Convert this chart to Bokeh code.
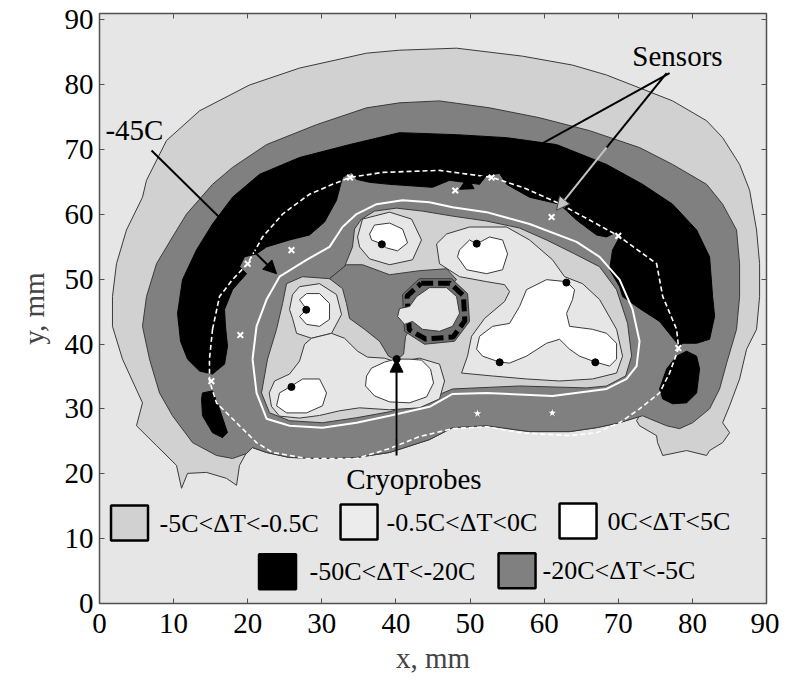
from bokeh.plotting import figure
from bokeh.models import (Range1d, FixedTicker, LinearAxis, CustomJSTickFormatter,
                          Arrow, NormalHead, Label)
from bokeh.core.properties import value
from bokeh.embed import file_html
from bokeh.resources import INLINE

# ---------------- data (mm) ----------------
X_TICKS = [0, 10, 20, 30, 40, 50, 60, 70, 80, 90]
Y_TICKS = [0, 10, 20, 30, 40, 50, 60, 70, 80, 90]

# bottom edge of the -20C..-5C band (shared by two contours)
BAND_BOTTOM_X = [70.18, 67.07, 63.43, 58.03, 52.23, 47.64, 44.53, 39.14, 34.68, 30.09, 25.64, 22.54, 20.65]
BAND_BOTTOM_Y = [27.88, 27.12, 26.51, 26.51, 27.42, 27.12, 25.28, 23.29, 22.52, 22.37, 22.52, 23.29, 24.05]

# -0.5C contour (outer light-grey ring)
LG_OUTER_X = [11.07, 10.39, 7.69, 4.99, 5.80, 3.10, 1.75, 1.75, 2.29, 3.64, 5.80, 6.34, 9.04, 13.50, 20.24,
              26.99, 36.03, 40.49, 48.18, 57.09, 63.83, 68.42, 72.87, 77.33, 81.92, 84.08, 86.37, 87.72,
              88.66, 89.07, 89.07, 88.66, 87.31, 86.37, 85.02, 84.08, 85.02, 84.08, 82.32, 81.92, 79.22,
              76.00, 75.30, 75.17, 72.87, 72.47, 72.87]
LG_OUTER_Y = [17.77, 21.30, 24.36, 27.42, 30.95, 37.69, 42.75, 47.34, 52.40, 57.61, 62.66, 65.27, 71.40, 75.99,
              79.97, 82.58, 84.88, 85.34, 85.65, 84.42, 83.04, 81.51, 79.52, 77.52, 74.46, 71.85, 67.72,
              63.74, 57.61, 52.40, 47.34, 42.29, 39.22, 34.63, 30.49, 27.88, 26.35, 24.82, 23.59, 22.83,
              23.59, 22.83, 24.82, 25.89, 27.42, 28.19, 28.96]
LG_TAIL_X = [19.84, 18.89, 18.49, 17.14, 14.44, 11.88]
LG_TAIL_Y = [23.29, 21.30, 18.23, 19.30, 20.22, 20.07]

# -5C contour (outer edge of the grey band)
GR_OUTER_X = [19.84, 17.95, 15.79, 12.55, 9.85, 8.10, 6.75, 5.80, 6.34, 7.69, 9.85, 11.74, 15.25, 17.95, 22.54,
              29.28, 36.03, 40.49, 45.88, 52.63, 59.38, 66.13, 72.87, 77.33, 81.92, 84.08, 85.96, 86.37,
              86.37, 85.96, 84.62, 83.67, 82.32, 80.03, 78.27, 76.52, 74.22, 73.28]
GR_OUTER_Y = [23.13, 22.37, 22.83, 24.82, 28.96, 32.48, 37.69, 42.75, 47.34, 52.40, 56.53, 60.06, 64.65, 67.26,
              70.78, 73.85, 76.45, 77.22, 77.52, 76.45, 74.92, 72.93, 70.32, 67.72, 64.65, 61.59, 57.61,
              52.40, 47.34, 42.29, 37.08, 33.09, 30.03, 27.88, 26.97, 27.42, 28.50, 28.96]

# -20C contours (black)
BLACK_MAIN_X = [13.50, 11.88, 10.93, 10.53, 11.20, 13.09, 15.25, 17.95, 21.59, 26.99, 33.74, 40.49, 48.18, 54.93,
                61.67, 68.42, 73.28, 77.33, 80.57, 82.32, 82.73, 83.00, 82.32, 80.57, 78.68, 78.27, 75.57,
                72.87, 70.58, 70.18, 68.83, 69.23, 70.18, 69.50, 68.42, 67.07, 64.37, 62.08, 58.03, 54.93,
                53.98, 52.23, 51.28, 47.23, 44.94, 39.14, 36.44, 34.68, 34.01, 32.79, 31.98, 30.36, 28.34,
                25.64, 22.54, 21.19, 19.57, 18.89, 19.84, 17.95, 16.87, 17.00, 17.27, 16.87, 15.25]
BLACK_MAIN_Y = [35.85, 37.69, 40.45, 44.74, 49.95, 54.54, 58.53, 62.66, 66.19, 68.79, 70.78, 72.62, 72.31, 71.85,
                70.78, 67.72, 64.65, 61.59, 57.61, 53.47, 47.34, 44.28, 40.75, 40.14, 40.14, 39.68, 43.51,
                45.50, 47.34, 48.87, 51.48, 54.54, 56.53, 57.15, 56.53, 56.84, 59.14, 61.59, 62.66, 64.65,
                66.34, 66.03, 64.65, 65.27, 64.19, 64.65, 64.96, 65.42, 66.49, 65.73, 62.20, 58.83, 56.84,
                56.07, 55.00, 53.93, 53.47, 51.94, 50.87, 48.41, 45.35, 42.75, 39.68, 36.92, 35.39]
BLACK_RIGHT_X = [80.57, 80.97, 80.57, 79.22, 77.33, 76.00, 75.57, 76.52, 77.87, 79.22]
BLACK_RIGHT_Y = [38.15, 36.16, 32.48, 30.95, 30.80, 31.56, 33.09, 36.16, 38.15, 38.92]
BLACK_LEFT_X = [13.90, 15.25, 16.19, 17.27, 16.60, 15.25, 13.90, 13.77]
BLACK_LEFT_Y = [32.48, 32.79, 30.03, 26.35, 25.59, 26.35, 28.96, 31.56]

# -5C contour (inner light-grey zone)
LG_INNER_X = [21.86, 22.67, 23.89, 24.70, 25.24, 27.40, 31.04, 33.06, 34.14, 34.41, 35.36, 37.11, 40.08, 43.59,
              47.64, 52.23, 56.68, 60.32, 64.10, 67.48, 69.77, 71.26, 71.80, 70.99, 68.42, 65.72, 56.68,
              47.64, 43.18, 39.14, 34.68, 30.09, 25.64, 22.94]
LG_INNER_Y = [32.48, 37.69, 42.29, 46.27, 49.33, 50.41, 50.10, 51.94, 55.00, 57.76, 59.29, 60.52, 60.98, 60.52,
              59.75, 58.99, 57.91, 56.07, 53.93, 51.94, 48.41, 43.20, 38.15, 35.09, 33.55, 33.25, 33.55,
              33.09, 30.95, 29.57, 28.65, 27.88, 28.19, 29.42]

# grey tongue in the centre (-20C..-5C)
GRAY_CENTER_X = [31.04, 33.33, 35.49, 39.14, 43.18, 46.83, 48.18, 46.56, 43.18, 41.30, 41.03, 40.08, 39.00,
                 37.79, 35.76, 33.74, 33.33, 32.79]
GRAY_CENTER_Y = [50.10, 52.25, 52.25, 50.71, 51.33, 51.63, 49.95, 48.11, 44.58, 41.21, 38.46, 37.54, 38.15,
                 40.45, 42.29, 43.97, 46.27, 48.57]

# central octagon
OCT_RING_X = [43.18, 47.50, 49.66, 49.93, 47.91, 43.86, 41.16, 40.89]
OCT_RING_Y = [50.10, 50.10, 47.80, 43.51, 40.45, 39.99, 41.98, 47.65]
OCT_DASH_X = [43.4, 47.3, 49.1, 49.3, 47.7, 44.0, 41.8, 41.5, 43.4]
OCT_DASH_Y = [49.4, 49.4, 47.5, 43.6, 41.1, 40.8, 42.2, 47.4, 49.4]
OCT_CORE_X = [42.78, 44.53, 46.83, 48.18, 48.58, 47.64, 45.88, 43.59, 42.24, 41.16, 40.22, 40.49, 41.84]
OCT_CORE_Y = [47.34, 48.72, 48.72, 47.34, 44.74, 42.75, 41.98, 42.29, 43.51, 43.05, 44.28, 45.50, 45.81]

# -0.5C contours (pale zones)
PALE_A_X = [34.82, 35.49, 39.14, 42.11, 43.45, 42.24, 39.14, 36.44, 35.09]
PALE_A_Y = [56.53, 59.29, 60.36, 59.29, 56.07, 53.01, 52.25, 53.16, 55.00]
PALE_B_X = [25.64, 26.05, 26.99, 29.69, 31.98, 32.66, 31.31, 28.61, 26.59, 26.05]
PALE_B_Y = [45.35, 47.65, 48.87, 49.33, 47.65, 44.58, 41.67, 40.91, 41.67, 43.97]
PALE_C_X = [22.90, 23.62, 25.64, 26.99, 27.67, 28.61, 31.31, 33.06, 34.82, 36.17, 38.46, 40.08, 43.18, 45.88,
            46.56, 45.88, 43.18, 39.14, 35.09, 32.39, 29.69, 26.99, 24.29, 23.20]
PALE_C_Y = [32.48, 34.32, 35.39, 37.38, 39.99, 40.91, 41.67, 40.91, 38.92, 38.00, 37.84, 37.23, 37.84, 36.92,
            34.32, 31.56, 30.18, 29.88, 30.18, 29.72, 29.00, 28.60, 28.90, 30.40]
PALE_E_X = [45.48, 46.83, 49.93, 54.93, 58.03, 61.13, 62.75, 65.18, 67.48, 69.77, 70.58, 69.77, 66.53, 62.08,
            57.62, 53.04, 48.85, 49.66, 50.20, 51.96, 54.66, 55.33, 54.66, 52.23, 48.58, 45.88]
PALE_E_Y = [55.46, 56.99, 58.07, 58.07, 56.07, 53.01, 50.41, 49.33, 46.88, 42.29, 38.15, 35.54, 34.63, 34.32,
            34.63, 35.09, 35.54, 38.15, 41.21, 43.97, 46.58, 48.11, 49.18, 49.64, 50.41, 52.40]

# 0C contours (white zones around the probes)
WHITE_1_X = [36.44, 37.11, 39.14, 40.89, 41.57, 40.22, 38.73, 38.06, 36.71]
WHITE_1_Y = [56.99, 58.37, 58.68, 57.76, 55.62, 54.39, 54.85, 55.46, 56.07]
WHITE_2_X = [26.99, 27.94, 29.69, 31.04, 31.04, 29.69, 27.94, 26.99, 27.94]
WHITE_2_Y = [46.88, 47.80, 47.80, 46.27, 43.82, 42.75, 43.05, 44.28, 45.35]
WHITE_3_X = [24.29, 25.91, 27.40, 29.69, 30.63, 30.09, 27.94, 25.24, 23.89]
WHITE_3_Y = [32.48, 33.55, 34.63, 34.63, 32.48, 30.49, 29.40, 29.40, 30.49]
WHITE_4_X = [36.03, 36.71, 38.46, 39.95, 41.84, 43.45, 44.67, 45.07, 44.13, 41.84, 39.14, 37.11, 35.90]
WHITE_4_Y = [35.09, 36.31, 37.23, 37.69, 37.69, 37.54, 36.16, 34.01, 31.87, 30.95, 31.10, 32.02, 33.55]
WHITE_5_X = [48.58, 49.93, 50.88, 52.63, 54.39, 55.06, 54.39, 52.23, 49.53, 48.31]
WHITE_5_Y = [54.54, 56.07, 55.46, 56.53, 56.07, 53.93, 51.48, 50.87, 51.48, 53.47]
WHITE_6_X = [63.02, 60.32, 57.62, 56.68, 55.33, 53.04, 51.28, 50.88, 51.69, 53.98, 55.33, 57.62, 60.32, 62.08,
             63.43, 64.78, 66.94, 68.83, 69.77, 69.77, 68.42, 66.53, 63.43, 63.02, 63.83, 64.10]
WHITE_6_Y = [49.64, 49.95, 48.41, 45.81, 43.20, 42.75, 41.21, 39.22, 38.15, 37.23, 37.08, 38.15, 40.14, 40.75,
             39.22, 38.15, 37.23, 36.62, 37.69, 40.14, 41.67, 42.29, 42.75, 44.74, 46.88, 48.41]

# -45C isotherm (white solid line)
ISO45_X = [20.65, 21.19, 22.54, 24.29, 27.94, 31.04, 32.79, 34.68, 37.38, 40.89, 44.53, 47.64, 52.23, 58.03,
           64.37, 67.48, 70.18, 71.93, 72.87, 72.47, 71.12, 68.42, 61.13, 52.23, 47.64, 44.53, 39.14, 34.68,
           30.09, 25.64, 22.54, 21.19, 20.65]
ISO45_Y = [37.69, 42.75, 46.88, 50.41, 53.01, 55.00, 58.07, 60.06, 61.59, 62.20, 61.90, 61.13, 60.36, 58.53,
           55.77, 53.47, 49.95, 45.35, 40.45, 36.62, 34.63, 33.09, 32.02, 32.48, 32.33, 30.34, 28.96, 27.88,
           27.12, 27.42, 28.50, 32.48, 37.69]

# sensor loop (white dashed line)
LOOP_X = [15.25, 16.19, 17.95, 19.97, 22.00, 24.70, 28.34, 31.44, 33.87, 38.19, 45.88, 52.90, 57.09, 61.67,
          66.13, 70.04, 75.17, 76.00, 77.87, 78.14, 76.92, 75.57, 72.87, 70.18, 67.07, 63.43, 56.68, 52.23,
          47.64, 43.18, 39.14, 34.68, 27.94, 23.35, 21.19, 18.89, 15.79, 14.84, 14.84, 15.25]
LOOP_Y = [42.29, 47.34, 49.95, 52.40, 56.53, 60.06, 63.12, 64.65, 65.73, 66.49, 66.80, 65.73, 64.19, 61.90,
          59.14, 56.69, 52.40, 47.34, 42.29, 39.38, 35.54, 32.48, 30.03, 27.88, 26.35, 25.89, 26.35, 27.27,
          26.97, 25.74, 23.90, 22.37, 22.37, 23.29, 24.82, 27.42, 30.95, 34.32, 37.69, 42.29]

SENSOR_X = [33.8, 48.0, 52.9, 61.0, 70.0, 25.9, 20.0, 19.0, 15.1, 78.1]
SENSOR_Y = [65.7, 63.7, 65.7, 59.6, 56.7, 54.5, 52.4, 41.4, 34.3, 39.4]
SENSOR_STAR_X = [51.0, 61.1]
SENSOR_STAR_Y = [29.3, 29.4]

PROBE_X = [38.1, 50.9, 27.9, 63.0, 54.0, 66.9, 25.9, 40.1]
PROBE_Y = [55.4, 55.5, 45.3, 49.5, 37.2, 37.2, 33.4, 37.7]

LEGEND_LABELS = ["-5C<\u0394T<-0.5C", "-0.5C<\u0394T<0C", "0C<\u0394T<5C", "-50C<\u0394T<-20C", "-20C<\u0394T<-5C"]

# ---------------- styling / layout ----------------
FONT = "Liberation Serif"
C_LIGHT = "#d1d1d1"
C_PALE = "#e6e6e6"
C_WHITE = "#ffffff"
C_BLACK = "#000000"
C_GRAY = "#808080"
EDGE = "#3a3a3a"
LEGEND_COLORS = [C_LIGHT, "#ececec", C_WHITE, C_BLACK, C_GRAY]
LEGEND_BOX_X = [4.05, 35.02, 64.57, 24.02, 56.34]
LEGEND_BOX_Y = [12.41, 12.56, 12.72, 4.90, 5.06]
LEGEND_TXT_X = [8.10, 38.73, 68.56, 28.34, 59.78]

p = figure(width=779, height=676, x_range=Range1d(0, 90), y_range=Range1d(0, 91),
           output_backend="svg", toolbar_location=None,
           min_border_left=99, min_border_right=13, min_border_top=13, min_border_bottom=69,
           background_fill_color=C_PALE, border_fill_color="white")
p.grid.visible = False
p.outline_line_color = "#505050"
p.outline_line_width = 1.5


def region(xs, ys, fill, line=EDGE, lw=1.0):
    p.patch(xs, ys, fill_color=fill, line_color=line, line_width=lw)


region(LG_OUTER_X + BAND_BOTTOM_X + LG_TAIL_X, LG_OUTER_Y + BAND_BOTTOM_Y + LG_TAIL_Y, C_LIGHT)
region(GR_OUTER_X + BAND_BOTTOM_X, GR_OUTER_Y + BAND_BOTTOM_Y, C_GRAY)
region(BLACK_MAIN_X, BLACK_MAIN_Y, C_BLACK, line=C_BLACK)
region(BLACK_RIGHT_X, BLACK_RIGHT_Y, C_BLACK, line=C_BLACK)
region(BLACK_LEFT_X, BLACK_LEFT_Y, C_BLACK, line=C_BLACK)
region(LG_INNER_X, LG_INNER_Y, C_LIGHT)
region(GRAY_CENTER_X, GRAY_CENTER_Y, C_GRAY)
region(OCT_RING_X, OCT_RING_Y, "#6e6e6e")
p.line(OCT_DASH_X, OCT_DASH_Y, line_color="black", line_width=5, line_dash="12 5")
region(OCT_CORE_X, OCT_CORE_Y, C_PALE)
for xs, ys in [(PALE_A_X, PALE_A_Y), (PALE_B_X, PALE_B_Y), (PALE_C_X, PALE_C_Y), (PALE_E_X, PALE_E_Y)]:
    region(xs, ys, C_PALE)
for xs, ys in [(WHITE_1_X, WHITE_1_Y), (WHITE_2_X, WHITE_2_Y), (WHITE_3_X, WHITE_3_Y),
               (WHITE_4_X, WHITE_4_Y), (WHITE_5_X, WHITE_5_Y), (WHITE_6_X, WHITE_6_Y)]:
    region(xs, ys, C_WHITE)

p.line(ISO45_X, ISO45_Y, line_color="white", line_width=2)
p.line(LOOP_X, LOOP_Y, line_color="white", line_width=1.6, line_dash="5 3")

p.scatter(SENSOR_X, SENSOR_Y, marker="x", size=8, line_color="white", line_width=2)
p.scatter(SENSOR_STAR_X, SENSOR_STAR_Y, marker="star", size=11, fill_color="white", line_color="#777777")
p.scatter(PROBE_X, PROBE_Y, marker="circle", size=7, fill_color="black", line_color="black")

# ---------------- annotations ----------------
def arrow(x0, y0, x1, y1, color="black", head_fill="black", head_line="black", size=13):
    p.add_layout(Arrow(end=NormalHead(size=size, fill_color=head_fill, line_color=head_line),
                       x_start=x0, y_start=y0, x_end=x1, y_end=y1,
                       line_color=color, line_width=2))


def label(x, y, txt, size="29px"):
    p.add_layout(Label(x=x, y=y, text=txt, text_font=FONT, text_font_size=size,
                       text_baseline="middle", text_align="left", text_color="black"))


arrow(7.02, 69.86, 23.89, 50.87)
label(0.8, 73.1, "-45C")

arrow(76.92, 81.81, 48.58, 63.89)
p.line([76.52, 68.42], [81.81, 70.32], line_color="black", line_width=2)
arrow(68.42, 70.32, 61.67, 60.67, color="#c4c4c4", head_fill="#c4c4c4", head_line="#404040")
label(71.9, 84.4, "Sensors")

arrow(40.08, 22.83, 40.08, 37.69)
p.line([40.08, 40.08], [25.4, 31.0], line_color="#c4c4c4", line_width=2)
label(33.3, 19.2, "Cryoprobes")

# ---------------- legend ----------------
p.rect(LEGEND_BOX_X, LEGEND_BOX_Y, width=37, height=35, width_units="screen", height_units="screen",
       fill_color=LEGEND_COLORS, line_color="black", line_width=2.5)
p.text(LEGEND_TXT_X, LEGEND_BOX_Y, text=LEGEND_LABELS, text_font=value(FONT), text_font_size="26px",
       text_baseline="middle", text_align="left", text_color="black")

# ---------------- axes ----------------
p.xaxis.ticker = FixedTicker(ticks=X_TICKS)
p.yaxis.ticker = FixedTicker(ticks=Y_TICKS)
p.xaxis.axis_label = "x, mm"
p.yaxis.axis_label = "y, mm"
for ax in (p.xaxis[0], p.yaxis[0]):
    ax.axis_label_text_font = FONT
    ax.axis_label_text_font_style = "normal"
    ax.axis_label_text_font_size = "29px"
    ax.major_label_text_font = FONT
    ax.major_label_text_font_size = "29px"
    ax.major_label_text_color = "black"
    ax.major_tick_in = 5
    ax.major_tick_out = 0
    ax.minor_tick_in = 0
    ax.minor_tick_out = 0
    ax.axis_line_color = "#505050"
    ax.major_tick_line_color = "#505050"
p.xaxis.major_label_standoff = 10
p.yaxis.major_label_standoff = 6
p.xaxis.axis_label_standoff = 6
p.yaxis.axis_label_standoff = 12

for loc, ticks in (("right", Y_TICKS), ("above", X_TICKS)):
    extra = LinearAxis(ticker=FixedTicker(ticks=ticks), formatter=CustomJSTickFormatter(code="return ''"),
                       major_tick_in=5, major_tick_out=0, minor_tick_in=0, minor_tick_out=0,
                       major_label_text_font_size="1px", major_label_standoff=0,
                       axis_line_color="#505050", major_tick_line_color="#505050")
    p.add_layout(extra, loc)

open("out.html", "w").write(file_html(p, INLINE))
